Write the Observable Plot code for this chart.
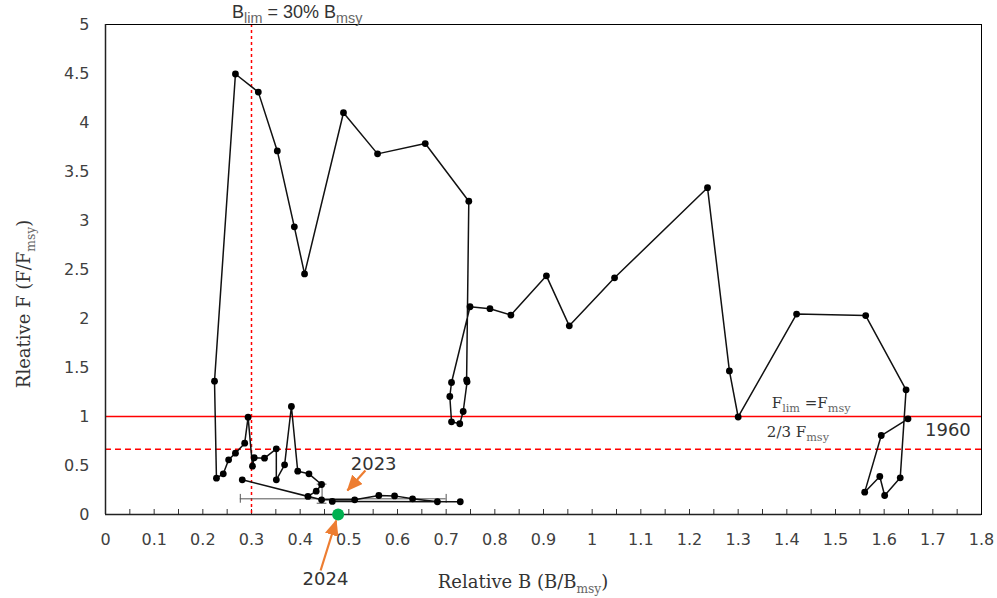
<!DOCTYPE html>
<html><head><meta charset="utf-8">
<script src="https://cdn.jsdelivr.net/npm/d3@7"></script>
<script src="https://cdn.jsdelivr.net/npm/@observablehq/plot@0.6"></script>
<style>body{margin:0;background:#fff} svg{display:block}</style>
</head><body><div id="chart"></div>
<script>
// Trajectory 1960 -> 2023 (relative biomass B/Bmsy, relative fishing mortality F/Fmsy)
const relB = [1.649,1.594,1.560,1.591,1.601,1.633,1.645,1.562,1.420,1.300,1.282,1.237,1.046,0.953,0.906,0.833,0.790,0.749,
  0.711,0.7075,0.711,0.728,0.735,0.743,0.742,0.7465,0.657,0.559,0.489,0.409,0.388,0.353,0.314,0.267,0.224,
  0.228,0.242,0.253,0.267,0.286,0.293,0.302,0.3055,0.3267,0.351,0.351,0.368,0.382,0.395,0.418,0.444,0.433,0.416,0.281,0.444,
  0.512,0.5616,0.594,0.631,0.682,0.729,0.466];
const relF = [0.976,0.806,0.228,0.388,0.194,0.374,1.272,2.030,2.045,0.995,1.465,3.335,2.415,1.925,2.435,2.035,2.100,2.120,
  1.347,1.204,0.946,0.926,1.051,1.354,1.374,3.197,3.785,3.680,4.100,2.455,2.935,3.710,4.310,4.495,1.360,
  0.371,0.415,0.558,0.626,0.728,0.993,0.493,0.579,0.575,0.670,0.354,0.507,1.102,0.442,0.415,0.306,0.238,0.184,0.354,0.150,
  0.150,0.194,0.190,0.160,0.130,0.130,0.133];

// 2023 uncertainty bars
const errH = {y: 0.16, x1: 0.277, x2: 0.70};
const errV = {x: 0.445, y1: 0.115, y2: 0.31};
// 2024 projection
const proj2024 = [{b: 0.478, f: 0}];

// reference points
const Blim = 0.3, Flim = 1, F23 = 2/3;

const xMajor = [0,0.1,0.2,0.3,0.4,0.5,0.6,0.7,0.8,0.9,1,1.1,1.2,1.3,1.4,1.5,1.6,1.7,1.8];
const xMinor = [0,0.05,0.1,0.15,0.2,0.25,0.3,0.35,0.4,0.45,0.5,0.55,0.6,0.65,0.7,0.75,0.8,0.85,0.9,0.95,1,1.05,1.1,1.15,1.2,1.25,1.3,1.35,1.4,1.45,1.5,1.55,1.6,1.65,1.7,1.75,1.8];
const yMajor = [0,0.5,1,1.5,2,2.5,3,3.5,4,4.5,5];

// annotations (data coordinates)
const arrows = [
  {x1: 0.534, y1: 0.449, x2: 0.497, y2: 0.245},
  {x1: 0.442, y1: -0.571, x2: 0.474, y2: -0.061}
];
const plainLabels = [
  {x: 1.731, y: 0.806, text: "1960"},
  {x: 0.551, y: 0.459, text: "2023"},
  {x: 0.452, y: -0.724, text: "2024"}
];

const idx = relB.map((_, i) => i);
const fmt = d => String(Math.round(d * 10) / 10);

const plot = Plot.plot({
  width: 997, height: 598,
  marginLeft: 105, marginRight: 16, marginTop: 24, marginBottom: 84,
  style: {fontFamily: "DejaVu Sans", fontSize: "16px", background: "#fff"},
  x: {domain: [0, 1.8]},
  y: {domain: [0, 5]},
  marks: [
    Plot.axisX({ticks: xMinor, tickSize: -5, tickFormat: () => "", label: null, stroke: "#333"}),
    Plot.axisX({ticks: xMajor, tickSize: 0, tickPadding: 19, tickFormat: fmt, label: null, fill: "#404040"}),
    Plot.axisY({ticks: yMajor, tickSize: 0, tickPadding: 16, tickFormat: fmt, label: null, fill: "#404040"}),
    Plot.ruleY([Flim], {stroke: "#ff0000", strokeWidth: 1.5}),
    Plot.ruleY([F23], {stroke: "#ff0000", strokeWidth: 1.5, strokeDasharray: "6,4"}),
    Plot.ruleX([Blim], {stroke: "#ff0000", strokeWidth: 1.5, strokeDasharray: "3,3"}),
    Plot.frame({stroke: "#000", strokeWidth: 1}),
    Plot.ruleX([0], {stroke: "#222", strokeWidth: 1.5}),
    Plot.ruleY([0], {stroke: "#222", strokeWidth: 1.5}),
    // error bars
    Plot.ruleY([errH], {y: "y", x1: "x1", x2: "x2", stroke: "#555", strokeWidth: 1}),
    Plot.ruleX([errH.x1, errH.x2], {y1: errH.y - 0.045, y2: errH.y + 0.045, stroke: "#555", strokeWidth: 1}),
    Plot.ruleX([errV], {x: "x", y1: "y1", y2: "y2", stroke: "#555", strokeWidth: 1}),
    Plot.ruleY([errV.y1, errV.y2], {x1: errV.x - 0.01, x2: errV.x + 0.01, stroke: "#555", strokeWidth: 1}),
    // trajectory
    Plot.line(idx, {x: i => relB[i], y: i => relF[i], stroke: "#111", strokeWidth: 1.5}),
    Plot.dot(idx, {x: i => relB[i], y: i => relF[i], r: 3.4, fill: "#000"}),
    Plot.dot(proj2024, {x: "b", y: "f", r: 6, fill: "#00b050"}),
    Plot.link(arrows, {x1: "x1", y1: "y1", x2: "x2", y2: "y2", stroke: "#ed7d31", strokeWidth: 2.2}),
    Plot.text(plainLabels, {x: "x", y: "y", text: "text", fill: "#333", fontSize: 18, lineAnchor: "bottom"})
  ]
});
document.getElementById("chart").appendChild(plot);

const svg = d3.select(plot);
// filled arrowheads for the annotation arrows
const defs = svg.insert("defs", ":first-child");
defs.append("marker")
  .attr("id", "orangeHead").attr("markerUnits", "userSpaceOnUse")
  .attr("markerWidth", 16).attr("markerHeight", 14)
  .attr("refX", 15).attr("refY", 7).attr("orient", "auto")
  .append("path").attr("d", "M0,0 L16,7 L0,14 Z").attr("fill", "#ed7d31");
svg.selectAll('g[aria-label="link"] path').attr("marker-end", "url(#orangeHead)");

// subscripted labels
const sx = plot.scale("x"), sy = plot.scale("y");
function subText(px, py, parts, o) {
  const t = svg.append("text")
    .attr("x", px).attr("y", py)
    .attr("font-family", o.font).attr("font-size", o.size)
    .attr("fill", o.fill || "#333")
    .attr("text-anchor", o.anchor || "start");
  if (o.rotate) t.attr("transform", `rotate(-90 ${px} ${py})`);
  const r = o.ratio || 0.68;
  let lastSub = false;
  parts.forEach(([s, isSub]) => {
    const ts = t.append("tspan").text(s);
    if (isSub) ts.attr("font-size", o.size * r).attr("fill", "#666");
    if (isSub && !lastSub) ts.attr("dy", o.size * 0.3);
    else if (!isSub && lastSub) ts.attr("dy", -o.size * 0.3);
    lastSub = isSub;
  });
}
subText(sx.apply(0.395), sy.apply(5.061), [["B", false], ["lim", true], [" = 30% B", false], ["msy", true]],
  {font: "Liberation Sans", size: 18, anchor: "middle", ratio: 0.8});
subText(sx.apply(1.370), sy.apply(1.082), [["F", false], ["lim", true], [" =F", false], ["msy", true]],
  {font: "DejaVu Serif", size: 15, ratio: 0.75});
subText(sx.apply(1.360), sy.apply(0.789), [["2/3 F", false], ["msy", true]],
  {font: "DejaVu Serif", size: 15, ratio: 0.75});
subText(sx.apply(0.859), sy.apply(-0.755), [["Relative B (B/B", false], ["msy", true], [")", false]],
  {font: "DejaVu Serif", size: 18, anchor: "middle"});
subText(30, sy.apply(2.143), [["Rleative F (F/F", false], ["msy", true], [")", false]],
  {font: "DejaVu Serif", size: 18, anchor: "middle", rotate: true});
</script>
</body></html>
